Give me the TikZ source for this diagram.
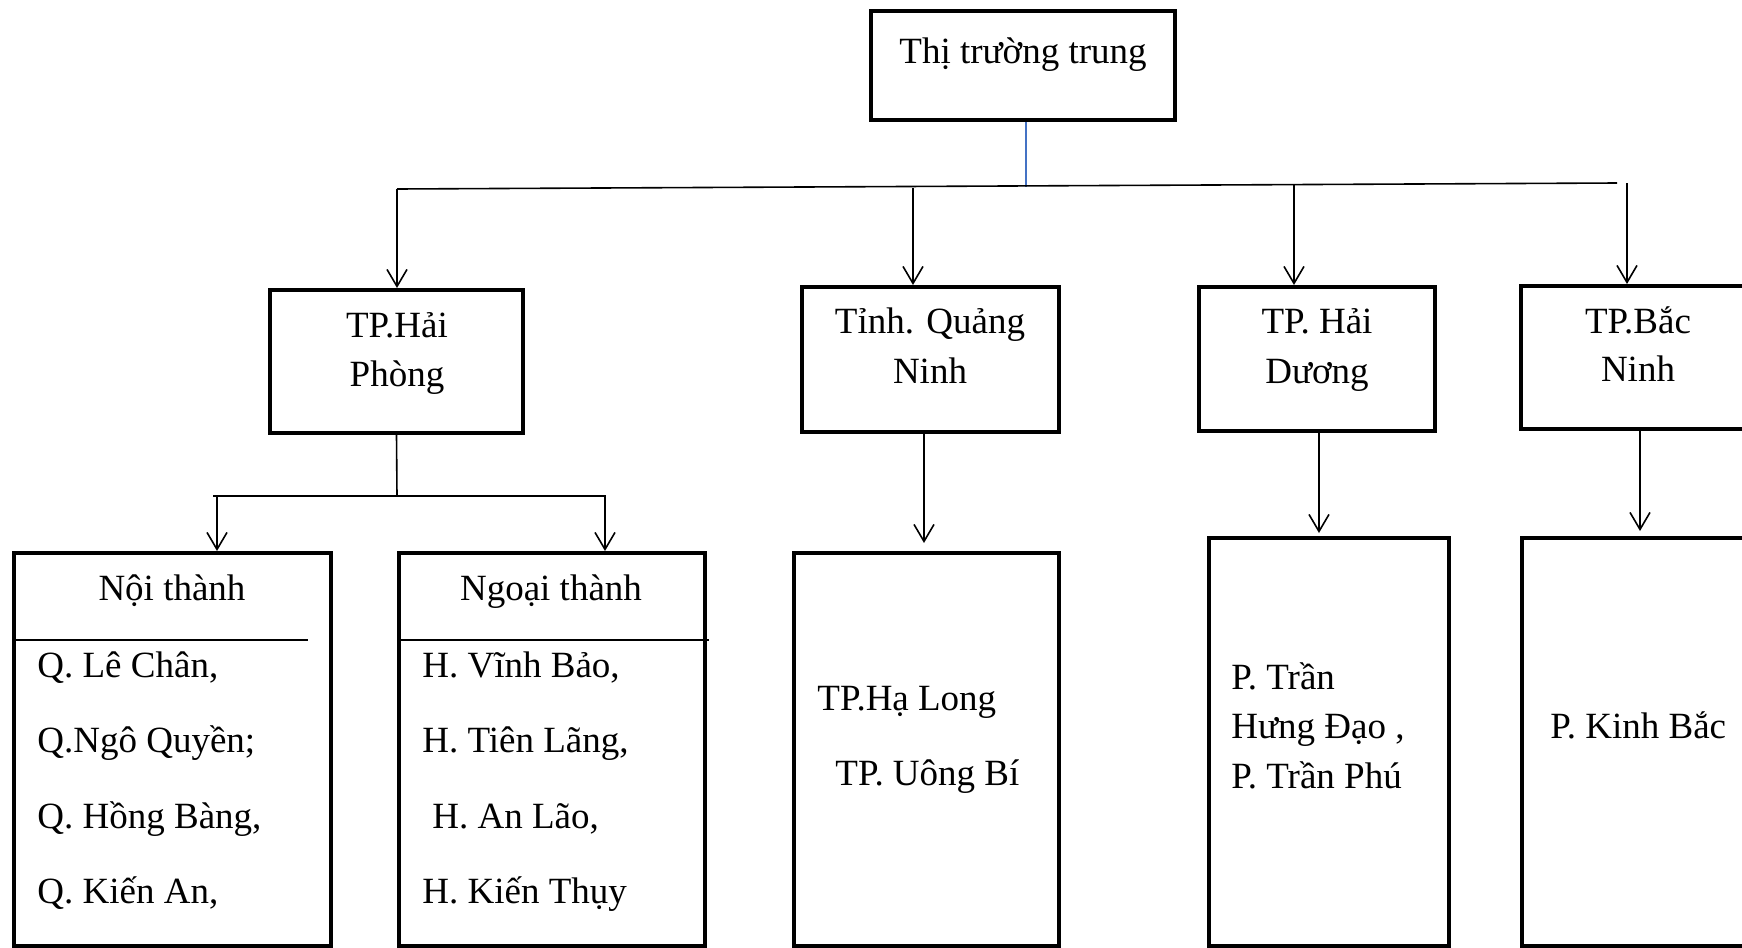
\documentclass[tikz,border=0pt]{standalone}
\usepackage{fontspec}
\setmainfont{Liberation Serif}
\usetikzlibrary{arrows.meta,fit}
\definecolor{linkblue}{RGB}{68,114,196}
\begin{document}
\begin{tikzpicture}[x=0.5pt,y=-0.5pt,
  box/.style={draw,line width=2pt,inner sep=0pt},
  conn/.style={line width=0.8pt},
  arr/.style={conn,-{Straight Barb[length=8.5pt,width=10pt]}},
  lbl/.style={inner sep=0pt,font=\fontsize{18.5}{24}\selectfont},
  ctr/.style={lbl,anchor=base},
  lft/.style={lbl,anchor=base west},
]
\useasboundingbox (0,0) rectangle (1742,948);
\clip (0,0) rectangle (1742,948);

% boxes
\node[box,fit={(871,11) (1175,120)}] (top) {};
\node[box,fit={(270,290) (523,433)}] (hp) {};
\node[box,fit={(802,287) (1059,432)}] (qn) {};
\node[box,fit={(1199,287) (1435,431)}] (hd) {};
\node[box,fit={(1521,286) (1760,429)}] (bn) {};
\node[box,fit={(14,553) (331,946)}] (noi) {};
\node[box,fit={(399,553) (705,946)}] (ngoai) {};
\node[box,fit={(794,553) (1059,946)}] (qnl) {};
\node[box,fit={(1209,538) (1449,946)}] (hdl) {};
\node[box,fit={(1522,538) (1760,946)}] (bnl) {};

% main bus
\coordinate (bus) at (1026,187);
\draw[conn,linkblue] (top.south -| bus) -- (bus);
\coordinate (d1) at (397,189);
\coordinate (d2) at (913,188);
\coordinate (d3) at (1294,184);
\coordinate (busR) at (1617,183);
\coordinate (d4) at (1627,183);
\draw[conn] (d1) -- (busR);
\draw[arr] (d1) -- (d1 |- hp.north);
\draw[arr] (d2) -- (d2 |- qn.north);
\draw[arr] (d3) -- (d3 |- hd.north);
\draw[arr] (d4) -- (d4 |- bn.north);

% Hai Phong branches
\coordinate (hpstem) at (397,496);
\draw[conn] (hp.south) -- (hpstem);
\coordinate (s1) at (217,496);
\coordinate (s2) at (605,496);
\draw[conn] (213,496) -- (606,496);
\draw[arr] (s1) -- (s1 |- noi.north);
\draw[arr] (s2) -- (s2 |- ngoai.north);

% single branches
\coordinate (q1) at (924,0);
\coordinate (h1) at (1319,0);
\coordinate (b1) at (1640,0);
\draw[arr,shorten >=4pt] (q1 |- qn.south) -- (q1 |- qnl.north);
\draw[arr,shorten >=1.5pt] (h1 |- hd.south) -- (h1 |- hdl.north);
\draw[arr,shorten >=2.5pt] (b1 |- bn.south) -- (b1 |- bnl.north);

% header separators
\draw[line width=1pt] (16,640) -- (308,640);
\draw[line width=1pt] (399,640) -- (709,640);

% texts
\node[ctr] (t0) at (1023,63) {Thị trường trung};

\node[ctr] (t1a) at (397,337) {TP.Hải};
\node[ctr] (t1b) at (397,386) {Phòng};
\node[ctr] (t2a) at (930,333) {Tỉnh. Quảng};
\node[ctr] (t2b) at (930,383) {Ninh};
\node[ctr] (t3a) at (1317,333) {TP. Hải};
\node[ctr] (t3b) at (1317,383) {Dương};
\node[ctr] (t4a) at (1638,333) {TP.Bắc};
\node[ctr] (t4b) at (1638,381) {Ninh};

\node[ctr] (n0) at (172,600) {Nội thành};
\node[lft] (n1) at (37,677) {Q. Lê Chân,};
\node[lft] (n2) at (37,752) {Q.Ngô Quyền;};
\node[lft] (n3) at (37,828) {Q. Hồng Bàng,};
\node[lft] (n4) at (37,903) {Q. Kiến An,};

\node[ctr] (g0) at (551,600) {Ngoại thành};
\node[lft] (g1) at (422,677) {H. Vĩnh Bảo,};
\node[lft] (g2) at (422,752) {H. Tiên Lãng,};
\node[lft] (g3) at (432,828) {H. An Lão,};
\node[lft] (g4) at (422,903) {H. Kiến Thụy};

\node[lft] (q1t) at (817,710) {TP.Hạ Long};
\node[lft] (q2t) at (835,785) {TP. Uông Bí};

\node[lft] (h1t) at (1231,689) {P. Trần};
\node[lft] (h2t) at (1231,738) {Hưng Đạo ,};
\node[lft] (h3t) at (1231,788) {P. Trần Phú};

\node[lft] (b1t) at (1550,738) {P. Kinh Bắc};
\end{tikzpicture}
\end{document}
